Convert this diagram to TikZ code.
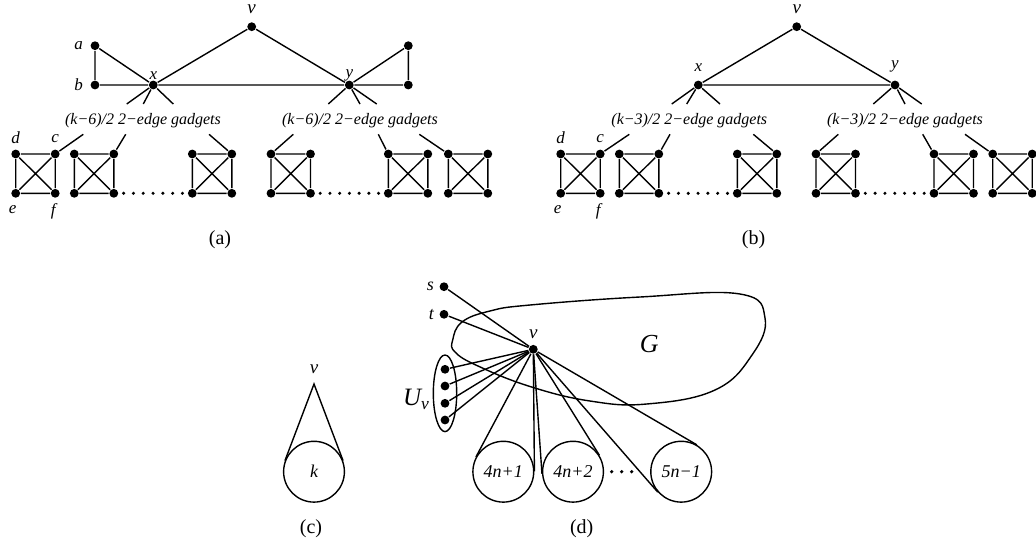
\documentclass[tikz,border=0pt]{standalone}
\usepackage{fontspec}
\setmainfont{Liberation Serif}
\usetikzlibrary{positioning, calc, shapes.geometric}

\begin{document}
\begin{tikzpicture}[x=0.5pt, y=-0.5pt, line width=0.7pt,
    vert/.style={circle, fill, inner sep=0pt, minimum size=4.4pt},
    lbl/.style={font=\fontsize{8.5}{10}\selectfont\itshape, inner sep=1pt},
    blbl/.style={font=\fontsize{9}{11}\selectfont\itshape, inner sep=1pt},
    vlbl/.style={font=\fontsize{9.5}{11}\selectfont\itshape, inner sep=1pt},
    gtext/.style={font=\fontsize{8}{10}\selectfont\itshape, inner sep=0pt},
    ball/.style={circle, draw, minimum size=30.4pt, inner sep=0pt, font=\fontsize{9}{11}\selectfont\itshape},
    caption/.style={font=\fontsize{10}{12}\selectfont}
  ]
  \useasboundingbox (0,0) rectangle (1036,546);

  % (a): top part
  \node[vert] (av) at (251.7,26.7) {};
  \node[vert] (aa) at (95,45.7) {};
  \node[vert] (ab) at (95,85) {};
  \node[vert] (ax) at (153.3,85) {};
  \node[vert] (ay) at (349.3,85) {};
  \node[vert] (ac) at (408.3,45.7) {};
  \node[vert] (ad) at (408.3,85) {};
  \node[vlbl, above=2.4pt of av] {v};
  \node[lbl, left=2.2pt of aa] {a};
  \node[lbl, left=2.2pt of ab] {b};
  \node[lbl, above=-1pt of ax] {x};
  \node[lbl, above=-2pt of ay] {y};
  \draw (aa) -- (ab) -- (ax) -- (aa);
  \draw (ax) -- (av) -- (ay) -- (ax);
  \draw (ay) -- (ac) -- (ad) -- (ay);

  % (b): top part
  \node[vert] (bv) at (796.7,26.7) {};
  \node[vert] (bx) at (698.3,85) {};
  \node[vert] (by) at (895,85) {};
  \node[vlbl, above=2.4pt of bv] {v};
  \node[lbl, above=3pt of bx] {x};
  \node[lbl, above=2.5pt of by] {y};
  \draw (bx) -- (bv) -- (by) -- (bx);

  % stubs from x and y
  \foreach \n/\e [count=\i] in {ax/126.7, ax/143.3, ax/173.3, ay/328.3, ay/360, ay/376.7,
                                 bx/671.7, bx/686.7, bx/720, by/873.3, by/905, by/921.7} {
    \coordinate (xs\i) at (\e,104);
    \draw (\n) -- (xs\i);
  }

  \node[gtext] (agl) at (143,121) {(k−6)/2 2−edge gadgets};
  \node[gtext] (agr) at (360,121) {(k−6)/2 2−edge gadgets};
  \node[gtext] (bgl) at (689.3,121) {(k−3)/2 2−edge gadgets};
  \node[gtext] (bgr) at (905,121) {(k−3)/2 2−edge gadgets};

  % K4 gadgets
  \foreach \p/\i/\gx in {a/1/15.7, a/2/74.3, a/3/192.3, a/4/271, a/5/388.3, a/6/448.3,
                          b/1/560.7, b/2/619.3, b/3/737.3, b/4/816, b/5/934, b/6/992.7} {
    \node[vert] (\p\i-tl) at (\gx,154) {};
    \node[vert] (\p\i-tr) at (\gx+39.5,154) {};
    \node[vert] (\p\i-bl) at (\gx,193.3) {};
    \node[vert] (\p\i-br) at (\gx+39.5,193.3) {};
    \draw (\p\i-tl) -- (\p\i-tr) -- (\p\i-br) -- (\p\i-bl) -- (\p\i-tl)
          (\p\i-tl) -- (\p\i-br) (\p\i-tr) -- (\p\i-bl);
  }
  \foreach \c/\e in {a1-tr/83.3, a2-tr/125.7, a3-tr/209, a4-tl/293.3, a5-tl/378.3, a6-tl/419.3,
                     b1-tr/629.3, b2-tr/670, b3-tr/753.3, b4-tl/838.3, b5-tl/922.7, b6-tl/965} {
    \coordinate (\c-s) at (\e,134.3);
    \draw (\c) -- (\c-s);
  }
  \foreach \p in {a,b} {
    \node[lbl, above=1.5pt of \p1-tl] {d};
    \node[lbl, above=2pt of \p1-tr] {c};
    \node[lbl, below=2pt of \p1-bl, xshift=-1.5pt] {e};
    \node[lbl, below=1pt of \p1-br, xshift=-1pt] {f};
    \foreach \l/\r in {2/3, 4/5}
      \foreach \k in {1,...,7}
        \fill ($(\p\l-br)!\k/8!(\p\r-bl)$) circle (0.85pt);
  }

  \node[caption] at (220,240) {(a)};
  \node[caption] at (753.5,240) {(b)};

  % (c)
  \coordinate (capex) at (314,384);
  \node[vlbl, above=3.8pt of capex] {v};
  \node[ball] (ck) at (314,471.7) {k};
  \draw (tangent cs:node=ck,point={(capex)},solution=1) -- (capex)
        -- (tangent cs:node=ck,point={(capex)},solution=2);
  \node[caption] at (311,529) {(c)};

  % (d)
  \draw plot[smooth cycle, tension=0.7] coordinates {(452.7,340) (462,322) (490,311) (530,305)
        (640,297) (740,294) (765,318) (752,355) (715,390) (646.7,404) (590,401) (530,386.5)
        (478,366) (455,352)};
  \node[font=\fontsize{13}{15}\selectfont\itshape] (dG) at (649.3,344) {G};
  \node[vert] (dv) at (533.3,349.3) {};
  \node[vlbl, above=1.6pt of dv] {v};
  \node[vert] (ds) at (444,286.7) {};
  \node[vert] (dt) at (444,314.3) {};
  \node[blbl, left=1.2pt of ds] {s};
  \node[blbl, left=1.2pt of dt] {t};
  \node[ellipse, draw, inner sep=0pt, minimum width=11.7pt, minimum height=38.3pt] (dU) at (445,393.3) {};
  \foreach \uy [count=\i] in {369.3, 386, 403.3, 420}
    \node[vert] (du\i) at (445,\uy) {};
  \node[font=\fontsize{12.5}{14}\selectfont\itshape, inner sep=1pt, left=0pt of dU, yshift=-3pt] {U\textsubscript{v}};
  \node[ball] (d41) at (503.3,471.7) {4n+1};
  \node[ball] (d42) at (573,471.7) {4n+2};
  \node[ball] (d5) at (681.2,471.7) {5n−1};
  \foreach \k in {611.7, 621.7, 631.7}
    \fill (\k,471.7) circle (0.9pt);
  \foreach \n in {ds, dt, du1, du2, du3, du4}
    \draw (dv) -- (\n);
  \foreach \n in {d41, d42, d5}
    \draw (tangent cs:node=\n,point={(dv)},solution=1) -- (dv)
          -- (tangent cs:node=\n,point={(dv)},solution=2);
  \node[caption] at (581.7,528.3) {(d)};
\end{tikzpicture}
\end{document}
